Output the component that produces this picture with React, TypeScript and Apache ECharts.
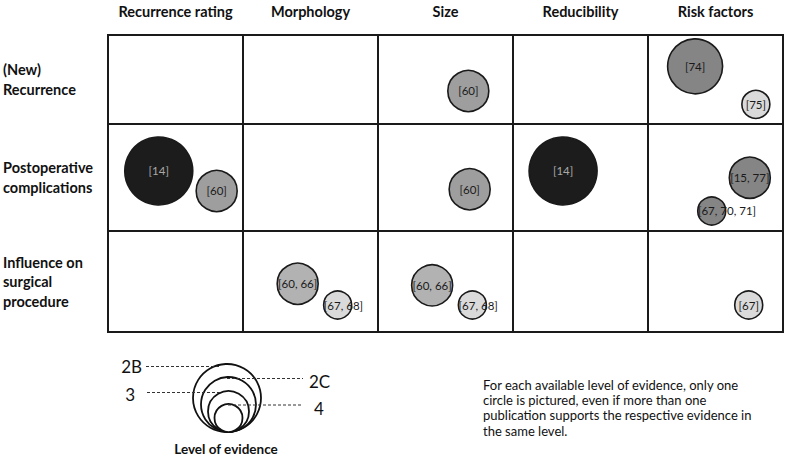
import React, { useEffect, useRef } from "react";
import * as echarts from "echarts";

// ---- data ----
const columns = ["Recurrence rating", "Morphology", "Size", "Reducibility", "Risk factors"];
const rowLabels = ["(New)\nRecurrence", "Postoperative\ncomplications", "Influence on\nsurgical\nprocedure"];
const evidenceLevels = ["2B", "2C", "3", "4"];

const refLabel = ["[74]", "[75]", "[60]", "[14]", "[60]", "[60]", "[14]", "[15, 77]", "[67, 70, 71]", "[60, 66]", "[67, 68]", "[60, 66]", "[67, 68]", "[67]"];
const refRow = [0, 0, 0, 1, 1, 1, 1, 1, 1, 2, 2, 2, 2, 2];
const refCol = [4, 4, 2, 0, 0, 2, 3, 4, 4, 1, 1, 2, 2, 4];
const refLevel = ["2C", "4", "3", "2B", "3", "3", "2B", "3", "4", "3", "4", "3", "4", "4"];
// placement inside the cell (0..1 from left, 0..1 from bottom)
const cellX = [0.349, 0.799, 0.669, 0.376, 0.805, 0.679, 0.371, 0.754, 0.472, 0.405, 0.701, 0.401, 0.699, 0.746];
const cellY = [0.648, 0.221, 0.371, 0.561, 0.374, 0.39, 0.561, 0.498, 0.187, 0.478, 0.267, 0.462, 0.267, 0.267];
// grey tone of each circle (0 = black … 4 = very light)
const refTone = [2, 4, 3, 0, 3, 3, 0, 2, 2, 3.5, 4, 3.5, 4, 4];

const noteText = [
  "For each available level of evidence, only one",
  "circle is pictured, even if more than one",
  "publication supports the respective evidence in",
  "the same level.",
];

// ---- styles / layout ----
const FONT = "Lato";
const INK = "#1a1a1a";
const levelDiameter: Record<string, number> = { "2B": 68, "2C": 55, "3": 41, "4": 28 };
const toneColor = (t: number) => {
  const map: Record<string, string> = { "0": "#1c1c1c", "2": "#858585", "3": "#9e9e9e", "3.5": "#b2b2b2", "4": "#dadada" };
  return map[String(t)];
};
const GRID_LEFT = 108;
const GRID_WIDTH = 675;
const rowTops = [35, 124, 231];
const rowHeights = [89, 107, 101];

export default function App() {
  const ref = useRef<HTMLDivElement>(null);
  useEffect(() => {
    if (!ref.current) return;
    const chart = echarts.init(ref.current, undefined, { renderer: "svg" });

    const grids = rowTops.map((t, i) => ({
      left: GRID_LEFT,
      top: t,
      width: GRID_WIDTH,
      height: rowHeights[i],
      show: true,
      borderColor: INK,
      borderWidth: 2,
      backgroundColor: "transparent",
      containLabel: false,
    }));

    const xAxes: any[] = rowTops.map((_, i) => ({
      gridIndex: i,
      type: "value",
      min: 0,
      max: columns.length,
      interval: 1,
      axisLine: { show: false },
      axisTick: { show: false },
      axisLabel: { show: false },
      splitLine: { show: true, lineStyle: { color: INK, width: 2 } },
    }));
    xAxes.push({
      gridIndex: 0,
      type: "category",
      data: columns,
      position: "top",
      axisLine: { show: false },
      axisTick: { show: false },
      splitLine: { show: false },
      axisLabel: { interval: 0, fontFamily: FONT, fontWeight: "bold", fontSize: 14.5, color: "#111", margin: 16 },
    });

    const yAxes: any[] = rowTops.map((_, i) => ({
      gridIndex: i,
      type: "category",
      data: [rowLabels[i]],
      axisLine: { show: false },
      axisTick: { show: false },
      splitLine: { show: false },
      axisLabel: {
        interval: 0,
        fontFamily: FONT,
        fontWeight: "bold",
        fontSize: 14.5,
        lineHeight: 19.5,
        color: "#111",
        align: "left",
        margin: 105,
      },
    }));
    rowTops.forEach((_, i) =>
      yAxes.push({ gridIndex: i, type: "value", min: 0, max: 1, show: false, splitLine: { show: false } })
    );

    const series = rowTops.map((_, r) => {
      const data: any[] = [];
      refLabel.forEach((lab, k) => {
        if (refRow[k] !== r) return;
        const dark = refTone[k] === 0;
        const overflow = lab.length > 8 || (refLevel[k] === "4" && lab.length > 5);
        data.push({
          value: [refCol[k] + cellX[k], cellY[k]],
          symbolSize: levelDiameter[refLevel[k]],
          itemStyle: { color: toneColor(refTone[k]), borderColor: INK, borderWidth: 1.6, opacity: 1 },
          label: {
            show: true,
            formatter: lab,
            position: overflow ? "insideLeft" : "inside",
            distance: 1,
            fontFamily: FONT,
            fontSize: 11.5,
            color: dark ? "#a8a8a8" : "#1a1a1a",
          },
        });
      });
      return {
        type: "scatter",
        xAxisIndex: r,
        yAxisIndex: 3 + r,
        symbol: "circle",
        itemStyle: { opacity: 1 },
        data,
        z: 5,
      };
    });

    // legend ("Level of evidence") graphic
    const baseY = 432;
    const legendCx = [227, 228.5, 228.5, 228.5];
    const legendCircles = evidenceLevels.map((lv, i) => {
      const r = levelDiameter[lv] / 2;
      return {
        type: "circle",
        shape: { cx: legendCx[i], cy: baseY - r, r },
        style: { fill: "#fff", stroke: "#111", lineWidth: 1.8 },
        z: 10 + i,
      };
    });
    const dash = { stroke: "#333", lineWidth: 1, lineDash: [3, 2] };
    const legendLines = [
      { x1: 146, x2: 220, y: 366.5 },
      { x1: 227, x2: 303, y: 378.5 },
      { x1: 147, x2: 220, y: 392.5 },
      { x1: 228, x2: 303, y: 405 },
    ].map((l, i) => ({
      type: "line",
      shape: { x1: l.x1, y1: l.y, x2: l.x2, y2: l.y },
      style: dash,
      z: 20 + i,
    }));
    const legendText = [
      { t: evidenceLevels[0], x: 142, y: 366, align: "right" },
      { t: evidenceLevels[1], x: 309, y: 381, align: "left" },
      { t: evidenceLevels[2], x: 135, y: 394, align: "right" },
      { t: evidenceLevels[3], x: 314, y: 408, align: "left" },
    ].map((l) => ({
      type: "text",
      x: l.x,
      y: l.y,
      style: { text: l.t, fontFamily: FONT, fontSize: 17, fill: "#111", align: l.align, verticalAlign: "middle" },
      z: 30,
    }));

    chart.setOption({
      animation: false,
      backgroundColor: "#fff",
      grid: grids,
      xAxis: xAxes,
      yAxis: yAxes,
      series,
      graphic: [
        ...legendCircles,
        ...legendLines,
        ...legendText,
        {
          type: "text",
          x: 226,
          y: 449,
          style: { text: "Level of evidence", fontFamily: FONT, fontWeight: "bold", fontSize: 13.5, fill: "#111", align: "center", verticalAlign: "middle" },
        },
        {
          type: "text",
          x: 483,
          y: 377,
          style: { text: noteText.join("\n"), fontFamily: FONT, fontSize: 13, lineHeight: 15.3, fill: "#111", align: "left", verticalAlign: "top" },
        },
      ],
    });
    return () => chart.dispose();
  }, []);
  return <div ref={ref} style={{ position: "absolute", left: 0, top: 0, width: 787, height: 460 }} />;
}
